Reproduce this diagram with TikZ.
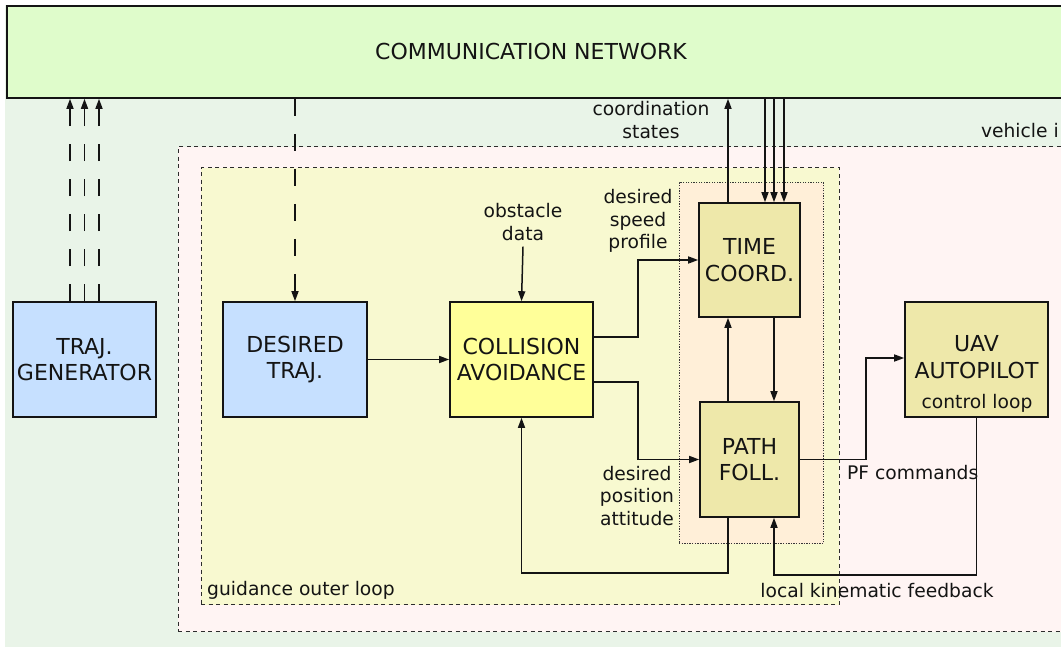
\documentclass[tikz,border=0pt]{standalone}
\usepackage{fontspec}
\setmainfont{DejaVu Sans}
\usetikzlibrary{arrows.meta,positioning,calc}
\definecolor{bggreen}{HTML}{E9F4E8}
\definecolor{netgreen}{HTML}{DFFCCB}
\definecolor{pinkbg}{HTML}{FFF4F3}
\definecolor{yelbg}{HTML}{F8F9D0}
\definecolor{orabg}{HTML}{FFEFD8}
\definecolor{blufill}{HTML}{C6E0FF}
\definecolor{colfill}{HTML}{FFFF99}
\definecolor{khaki}{HTML}{EEE8AA}
\definecolor{ink}{HTML}{141414}
\newcommand{\bigf}{\fontsize{22}{26.5}\selectfont}
\newcommand{\smallf}{\fontsize{18.7}{22.5}\selectfont}
\tikzset{
  blk/.style={draw=ink, line width=1.6pt, inner sep=0pt, align=center, font=\bigf, text=ink},
  region/.style={draw=ink!90, line width=1.3pt, dash pattern=on 4pt off 3.5pt, inner sep=0pt, anchor=north west},
  arr/.style={draw=ink, line width=1.5pt, -{Triangle[length=10pt,width=7pt]}},
  dasharr/.style={arr, dash pattern=on 17pt off 18pt},
  lbl/.style={font=\smallf, text=ink, align=center, inner sep=0pt},
}
\begin{document}
\begin{tikzpicture}[x=1pt,y=-1pt]
\clip (0,0) rectangle (1061,647);
\fill[white] (0,0) rectangle (1061,647);
\fill[bggreen] (5,5) rectangle (1061,647);
% network
\node[draw=ink, line width=1.8pt, fill=netgreen, inner sep=0pt, anchor=north west,
      minimum width=1080pt, minimum height=92pt] (net) at (6,5) {};
\node[font=\bigf, text=ink] (netlabel) at (531,51) {COMMUNICATION NETWORK};
% regions
\node[region, fill=pinkbg, minimum width=900pt, minimum height=485pt] (veh) at (177.5,146) {};
\node[lbl, anchor=east] (vehlabel) at (1059,131) {vehicle i};
\node[region, fill=yelbg, minimum width=638pt, minimum height=437pt] (guid) at (200.5,167) {};
\node[lbl, anchor=west] (guidlabel) at (207,590) {guidance outer loop};
\node[draw=ink!85, line width=1.1pt, dash pattern=on 1.3pt off 1.3pt, fill=orabg, inner sep=0pt, anchor=north west,
      minimum width=144.5pt, minimum height=361pt] (coordgrp) at (678.5,182) {};
% blocks
\node[blk, fill=blufill, minimum width=143pt, minimum height=115pt] (tgen) at (84.5,359.5) {TRAJ.\\GENERATOR};
\node[blk, fill=blufill, minimum width=144pt, minimum height=115pt] (dtraj) at (295,359.5) {DESIRED\\TRAJ.};
\node[blk, fill=colfill, minimum width=143pt, minimum height=115pt] (ca) at (521.5,359.5) {COLLISION\\AVOIDANCE};
\node[blk, fill=khaki, minimum width=101pt, minimum height=114pt] (tc) at (749.5,260) {TIME\\COORD.};
\node[blk, fill=khaki, minimum width=99pt, minimum height=115pt] (pf) at (749.5,459.5) {PATH\\FOLL.};
\node[blk, fill=khaki, minimum width=143pt, minimum height=115pt] (uav) at (976.5,359.5) {};
\node[font=\bigf, text=ink, align=center, inner sep=0pt] (uavlabel) at (976.5,357) {UAV\\AUTOPILOT};
\node[lbl] (ctrl) at (977,403) {control loop};
% labels
\node[lbl] (coordst) at (651,120) {coordination\\states};
\node[lbl] (obst) at (523,222) {obstacle\\data};
\node[lbl] (dsp) at (638,221) {desired\\speed\\profile};
\node[lbl] (dpa) at (637,496) {desired\\position\\attitude};
\node[lbl, anchor=west] (pfc) at (847,473) {PF commands};
\node[lbl] (lkf) at (877,591) {local kinematic feedback};
% connectors
\foreach \dx in {-14.5,0,14.5}
  \draw[dasharr] ([xshift=\dx pt]tgen.north) -- ([xshift=\dx pt]tgen.north |- net.south);
\draw[dasharr] (dtraj.north |- net.south) -- (dtraj.north);
\draw[arr] (dtraj.east) -- (ca.west);
\draw[arr] ([yshift=-6pt]obst.south) -- (ca.north);
\draw[arr] ([yshift=22.5pt]ca.east) -- ++(44,0) |- (tc.west);
\draw[arr] ([yshift=-22.5pt]ca.east) -- ++(44,0) |- (pf.west);
\draw[arr] ([xshift=-21.5pt]pf.north) -- ([xshift=-21.5pt]tc.south);
\draw[arr] ([xshift=24.5pt]tc.south) -- ([xshift=24.5pt]pf.north);
\draw[arr] ([xshift=-21.5pt]tc.north) -- ([xshift=-21.5pt]tc.north |- net.south);
\foreach \dx in {15.5,24.5,34.5}
  \draw[arr] ([xshift=\dx pt]tc.north |- net.south) -- ([xshift=\dx pt]tc.north);
\draw[arr] (pf.east) -- ++(66,0) |- ([yshift=1.5pt]uav.west);
\draw[arr] (uav.south) -- ++(0,157) -| ([xshift=24.5pt]pf.south);
\draw[arr] ([xshift=-21.5pt]pf.south) -- ++(0,55) -| (ca.south);
\end{tikzpicture}
\end{document}
